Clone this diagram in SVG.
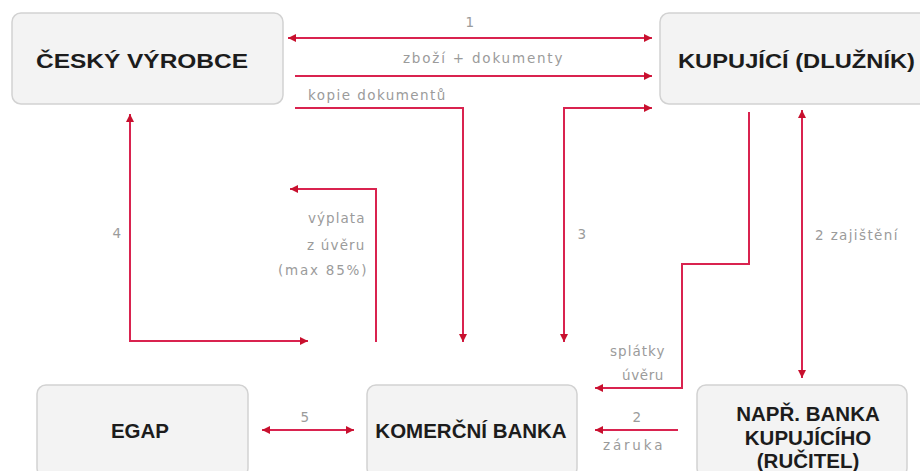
<svg xmlns="http://www.w3.org/2000/svg" width="920" height="471" viewBox="0 0 920 471">
<style>
.box{fill:#f3f3f3;stroke:#d2d2d2;stroke-width:1.5}
.nt{font-family:"Liberation Sans",Arial,sans-serif;font-weight:bold;font-size:20.5px;fill:#1c1c1c}
.lb{font-family:"DejaVu Sans","Liberation Sans",sans-serif;font-size:13.5px;fill:#9b9b9b;letter-spacing:0.6px}
.cn{fill:none;stroke:#d9234f;stroke-width:2}
</style>
<defs>
<marker id="ah" markerUnits="userSpaceOnUse" markerWidth="10" markerHeight="10" refX="9" refY="5" orient="auto-start-reverse">
<path d="M1,1 L9,5 L1,9 z" fill="#c8102e"/>
</marker>
</defs>
<rect width="920" height="471" fill="#ffffff"/>
<g id="vyrobce"><rect class="box" x="12" y="13" width="271" height="91" rx="9"/><text class="nt" x="36" y="68" textLength="212" lengthAdjust="spacingAndGlyphs">ČESKÝ VÝROBCE</text></g>
<g id="kupujici"><rect class="box" x="660" y="13" width="272" height="91" rx="9"/><text class="nt" x="678" y="68" textLength="237" lengthAdjust="spacingAndGlyphs">KUPUJÍCÍ (DLUŽNÍK)</text></g>
<g id="egap"><rect class="box" x="37" y="385" width="211" height="92" rx="9"/><text class="nt" x="140" y="438" text-anchor="middle">EGAP</text></g>
<g id="kb"><rect class="box" x="367" y="385" width="210" height="92" rx="9"/><text class="nt" x="471" y="438" text-anchor="middle">KOMERČNÍ BANKA</text></g>
<g id="rucitel"><rect class="box" x="697" y="385" width="210" height="92" rx="9"/><text class="nt" x="808" y="421" text-anchor="middle">NAPŘ. BANKA</text><text class="nt" x="808" y="445" text-anchor="middle">KUPUJÍCÍHO</text><text class="nt" x="808" y="468" text-anchor="middle">(RUČITEL)</text></g>
<g id="connectors">
<path class="cn" d="M288,38 H652" marker-start="url(#ah)" marker-end="url(#ah)"/>
<path class="cn" d="M295,76 H652" marker-end="url(#ah)"/>
<path class="cn" d="M295,108 H463 V342" marker-end="url(#ah)"/>
<path class="cn" d="M652,108 H564 V342" marker-start="url(#ah)" marker-end="url(#ah)"/>
<path class="cn" d="M749,112 V264 H682 V388 H595" marker-end="url(#ah)"/>
<path class="cn" d="M802,110 V378" marker-start="url(#ah)" marker-end="url(#ah)"/>
<path class="cn" d="M130,114 V341 H308" marker-start="url(#ah)" marker-end="url(#ah)"/>
<path class="cn" d="M376,342 V189 H290" marker-end="url(#ah)"/>
<path class="cn" d="M262,430 H354" marker-start="url(#ah)" marker-end="url(#ah)"/>
<path class="cn" d="M678,430 H595" marker-end="url(#ah)"/>
</g>
<g id="labels">
<text class="lb" x="470" y="27" text-anchor="middle">1</text>
<text class="lb" x="403" y="63" textLength="160">zboží + dokumenty</text>
<text class="lb" x="308" y="100" textLength="138">kopie dokumentů</text>
<text class="lb" x="117" y="238" text-anchor="middle">4</text>
<text class="lb" x="582" y="239" text-anchor="middle">3</text>
<text class="lb" x="815" y="240" textLength="83">2 zajištění</text>
<text class="lb" x="308" y="223" textLength="57">výplata</text>
<text class="lb" x="307" y="250" textLength="58">z úvěru</text>
<text class="lb" x="278" y="275" textLength="89">(max 85%)</text>
<text class="lb" x="610" y="356" textLength="55">splátky</text>
<text class="lb" x="622" y="380" textLength="42">úvěru</text>
<text class="lb" x="305" y="422" text-anchor="middle">5</text>
<text class="lb" x="637" y="422" text-anchor="middle">2</text>
<text class="lb" x="603" y="450" textLength="60">záruka</text>
</g>
</svg>
